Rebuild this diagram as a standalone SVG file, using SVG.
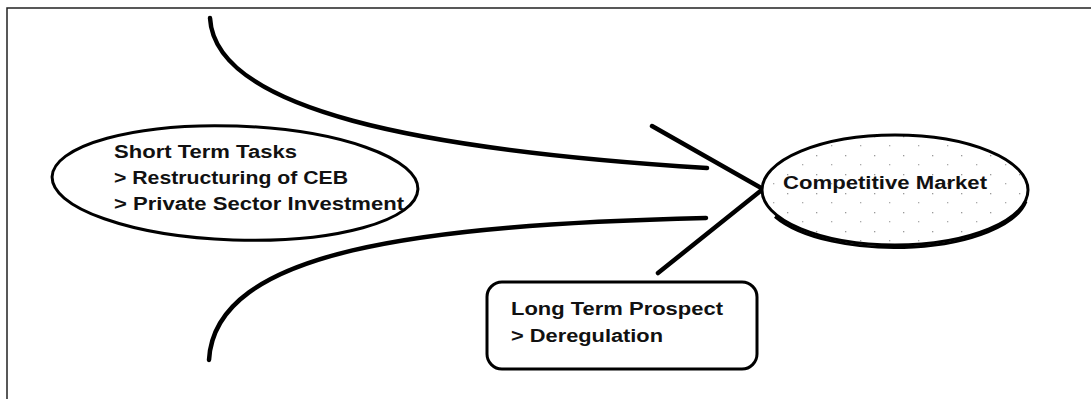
<svg xmlns="http://www.w3.org/2000/svg" width="1091" height="399" viewBox="0 0 1091 399">
<style>
.lbl{font-family:"Liberation Sans",Arial,sans-serif;font-weight:bold;font-size:18px;fill:#111}
.node{fill:#fff;stroke:#000;stroke-width:3}
.conn{fill:none;stroke:#000;stroke-width:4.5;stroke-linecap:round}
.frame{fill:none;stroke:#222;stroke-width:1.5}
</style>
<defs>
<pattern id="speckle" width="29" height="19" patternUnits="userSpaceOnUse">
<rect width="29" height="19" fill="#fff"/>
<rect x="4" y="3" width="1.3" height="1.3" fill="#999"/>
<rect x="19" y="12" width="1.3" height="1.3" fill="#aaa"/>
</pattern>
</defs>
<g id="frame">
<path class="frame" d="M7,399 V8 H1091"/>
</g>
<g id="connectors">
<path class="conn" d="M210,18 C215,110 420,150 707,168"/>
<path class="conn" d="M209,360 C215,250 420,225 706,218"/>
<path class="conn" stroke-width="4" d="M652,126 L763,189 L658,273"/>
</g>
<g id="short-term">
<ellipse class="node" cx="235" cy="183" rx="183" ry="57" transform="rotate(2 235 183)"/>
<text class="lbl" x="114" y="158" textLength="183" lengthAdjust="spacingAndGlyphs">Short Term Tasks</text>
<text class="lbl" x="114" y="184" textLength="234" lengthAdjust="spacingAndGlyphs">&gt; Restructuring of CEB</text>
<text class="lbl" x="114" y="210" textLength="290" lengthAdjust="spacingAndGlyphs">&gt; Private Sector Investment</text>
</g>
<g id="competitive-market">
<ellipse class="node" cx="895" cy="190" rx="133" ry="55" style="fill:url(#speckle)"/>
<path d="M775,215 A133,55 0 0 0 1026,200" fill="none" stroke="#000" stroke-width="3" transform="translate(0,1.5)"/>
<text class="lbl" x="783" y="189" textLength="204" lengthAdjust="spacingAndGlyphs">Competitive Market</text>
</g>
<g id="long-term">
<rect class="node" x="487" y="282" width="270" height="87" rx="15"/>
<text class="lbl" x="511" y="315" textLength="212" lengthAdjust="spacingAndGlyphs">Long Term Prospect</text>
<text class="lbl" x="511" y="342" textLength="152" lengthAdjust="spacingAndGlyphs">&gt; Deregulation</text>
</g>
</svg>
